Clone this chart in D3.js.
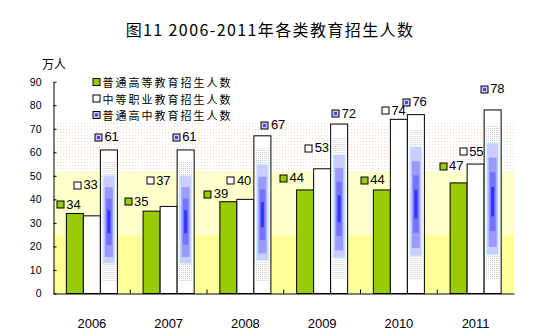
<!DOCTYPE html>
<html><head><meta charset="utf-8">
<script src="https://cdn.jsdelivr.net/npm/d3@7"></script>
<style>body{margin:0;background:#fff} svg{display:block}</style>
</head><body><svg id="c" width="551" height="332"></svg>
<script>
// ---- data ----
const years = ["2006", "2007", "2008", "2009", "2010", "2011"];
const seriesNames = ["普通高等教育招生人数", "中等职业教育招生人数", "普通高中教育招生人数"];
const higherEd = [34, 35, 39, 44, 44, 47];
const vocational = [33, 37, 40, 53, 74, 55];
const highSchool = [61, 61, 67, 72, 76, 78];
const yTicks = [0, 10, 20, 30, 40, 50, 60, 70, 80, 90];
const titleText = "图11 2006-2011年各类教育招生人数";
const unitText = "万人";
// background band boundaries in value units
const bandBreaks = [0, 25, 52, 72.5];
// manual data-label nudges (px, relative to bar centre / bar top)
const higherDx = [-15, -24, -21, -22, -18, -16];
const higherDy = [-9, -10, -8, -12, -10, -17];
const vocDx = [-15, -19, -15, -14, -14, -13];
const vocDy = [-31, -26, -19, -21, -9, -13];
const hsDx = [-11, -10, 2, -4, -10, -9];
const hsDy = [-13, -13, -11, -11, -13, -21];

const svg = d3.select("#c");
const defs = svg.append("defs");
const pink = defs.append("pattern").attr("id", "pinkDots").attr("patternUnits", "userSpaceOnUse")
  .attr("width", 6).attr("height", 6);
pink.append("rect").attr("width", 6).attr("height", 6).attr("fill", "#ffffff");
[[0, 0, "#fbd2d2"], [3, 0, "#fbe6bc"], [0, 3, "#fbe6bc"], [3, 3, "#fbd2d2"]].forEach(p => {
  pink.append("rect").attr("x", p[0]).attr("y", p[1]).attr("width", 1).attr("height", 1).attr("fill", p[2]);
});
const gray = defs.append("pattern").attr("id", "grayDots").attr("patternUnits", "userSpaceOnUse")
  .attr("width", 2).attr("height", 2);
gray.append("rect").attr("width", 2).attr("height", 2).attr("fill", "#ffffff");
gray.append("rect").attr("width", 1).attr("height", 1).attr("fill", "#c8c8c8");

const x = d3.scaleBand().domain(years).range([53.5, 514]).paddingInner(0.335).paddingOuter(0.1675);
const xs = d3.scaleBand().domain([0, 1, 2]).range([0, x.bandwidth()]);
const y = d3.scaleLinear().domain([0, 90]).range([293.5, 81.7]);

// background bands
const bandFills = ["#ffff99", "#ffffcc", "url(#pinkDots)"];
svg.append("g").selectAll("rect").data(d3.pairs(bandBreaks)).join("rect")
  .attr("x", 53.5).attr("width", 514 - 53.5)
  .attr("y", d => y(d[1])).attr("height", d => y(d[0]) - y(d[1]))
  .attr("fill", (d, i) => bandFills[i]);

// title
svg.append("text").attr("x", 270).attr("y", 29).attr("text-anchor", "middle")
  .attr("dominant-baseline", "central")
  .style("font-family", "'Noto Sans CJK SC', sans-serif").style("font-size", "16px")
  .style("letter-spacing", "1.4px")
  .text(titleText);
svg.append("text").attr("x", 54).attr("y", 63).attr("text-anchor", "middle")
  .attr("dominant-baseline", "central")
  .style("font-family", "'Noto Sans CJK SC', sans-serif").style("font-size", "12px")
  .text(unitText);

// bars
const series = [higherEd, vocational, highSchool];
const groups = svg.append("g").selectAll("g").data(years).join("g")
  .attr("transform", d => `translate(${x(d)},0)`);

groups.each(function (yr, i) {
  const g = d3.select(this);
  const w = xs.bandwidth();
  g.append("rect").attr("x", xs(0)).attr("width", w).attr("y", y(higherEd[i]))
    .attr("height", y(0) - y(higherEd[i])).attr("fill", "#99cc00")
    .attr("stroke", "#000").attr("stroke-width", 1);
  g.append("rect").attr("x", xs(1)).attr("width", w).attr("y", y(vocational[i]))
    .attr("height", y(0) - y(vocational[i])).attr("fill", "#fff")
    .attr("stroke", "#000").attr("stroke-width", 1);
  const v = highSchool[i];
  const top = y(v), h = y(0) - y(v), bx = xs(2);
  g.append("rect").attr("x", bx).attr("width", w).attr("y", top).attr("height", h)
    .attr("fill", "#fff");
  const cx = bx + w / 2;
  const layers = [
    { f0: 0.08, f1: 0.92, wd: w - 4, fill: "url(#grayDots)", stroke: "none" },
    { f0: 0.18, f1: 0.79, wd: 12, fill: "#ccccff", stroke: "#c8f4ff" },
    { f0: 0.26, f1: 0.745, wd: 8, fill: "#9a9aff", stroke: "none" },
    { f0: 0.34, f1: 0.66, wd: 5.5, fill: "#7373ff", stroke: "none" },
    { f0: 0.42, f1: 0.58, wd: 3, fill: "#3333ff", stroke: "none" }
  ];
  layers.forEach(L => {
    g.append("rect").attr("x", cx - L.wd / 2).attr("width", L.wd)
      .attr("y", top + L.f0 * h).attr("height", (L.f1 - L.f0) * h)
      .attr("fill", L.fill).attr("stroke", L.stroke).attr("stroke-width", 1);
  });
  g.append("rect").attr("x", bx).attr("width", w).attr("y", top).attr("height", h)
    .attr("fill", "none").attr("stroke", "#000").attr("stroke-width", 1);
});

// axes
const yAxis = d3.axisLeft(y).tickValues(yTicks).tickSizeInner(-3).tickSizeOuter(0).tickPadding(12);
const ya = svg.append("g").attr("transform", "translate(53.5,0)").call(yAxis);
ya.select(".domain").attr("stroke", "#000");
ya.selectAll("text").style("font-family", "'Liberation Sans', Arial, sans-serif").style("font-size", "10.5px").attr("fill", "#000");
ya.selectAll("line").attr("stroke", "#000");

const xAxis = d3.axisBottom(x).tickSize(0).tickPadding(25);
const xa = svg.append("g").attr("transform", `translate(0,${y(0)})`).call(xAxis);
xa.select(".domain").attr("stroke", "#000");
xa.selectAll("text").style("font-family", "'Liberation Sans', Arial, sans-serif").style("font-size", "13px").attr("fill", "#000");
svg.append("g").selectAll("line").data(years.slice(1)).join("line")
  .attr("x1", d => x(d) - x.step() * x.paddingInner() / 2)
  .attr("x2", d => x(d) - x.step() * x.paddingInner() / 2)
  .attr("y1", y(0)).attr("y2", y(0) - 4).attr("stroke", "#000");

function marker(sel, cx, cy, k) {
  const m = sel.append("g").attr("transform", `translate(${cx},${cy})`);
  if (k === 0) {
    m.append("rect").attr("x", -3.5).attr("y", -3.5).attr("width", 7).attr("height", 7)
      .attr("fill", "#99cc00").attr("stroke", "#000");
  } else if (k === 1) {
    m.append("rect").attr("x", -3.5).attr("y", -3.5).attr("width", 7).attr("height", 7)
      .attr("fill", "#fff").attr("stroke", "#000");
  } else {
    m.append("rect").attr("x", -3.5).attr("y", -3.5).attr("width", 7).attr("height", 7)
      .attr("fill", "#c8c8ff").attr("stroke", "#000");
    m.append("rect").attr("x", -1.5).attr("y", -1.5).attr("width", 3).attr("height", 3)
      .attr("fill", "#4444ff");
  }
}

// legend
const leg = svg.append("g");
seriesNames.forEach((name, k) => {
  const ly = 82 + k * 16.5;
  marker(leg, 96.5, ly, k);
  leg.append("text").attr("x", 102.5).attr("y", ly).attr("dominant-baseline", "central")
    .style("font-family", "'Noto Sans CJK SC', sans-serif").style("font-size", "11px")
    .style("letter-spacing", "2px")
    .text(name);
});

// data labels
const dxs = [higherDx, vocDx, hsDx], dys = [higherDy, vocDy, hsDy];
const labels = svg.append("g");
series.forEach((vals, k) => {
  vals.forEach((v, i) => {
    const cx = x(years[i]) + xs(k) + xs.bandwidth() / 2 + dxs[k][i];
    const cy = y(v) + dys[k][i];
    marker(labels, Math.round(cx) + 0.5, Math.round(cy) + 0.5, k);
    labels.append("text").attr("x", cx + 6.5).attr("y", cy).attr("dominant-baseline", "central")
      .style("font-family", "'Liberation Sans', Arial, sans-serif").style("font-size", "13px")
      .text(v);
  });
});
</script>
</body></html>
